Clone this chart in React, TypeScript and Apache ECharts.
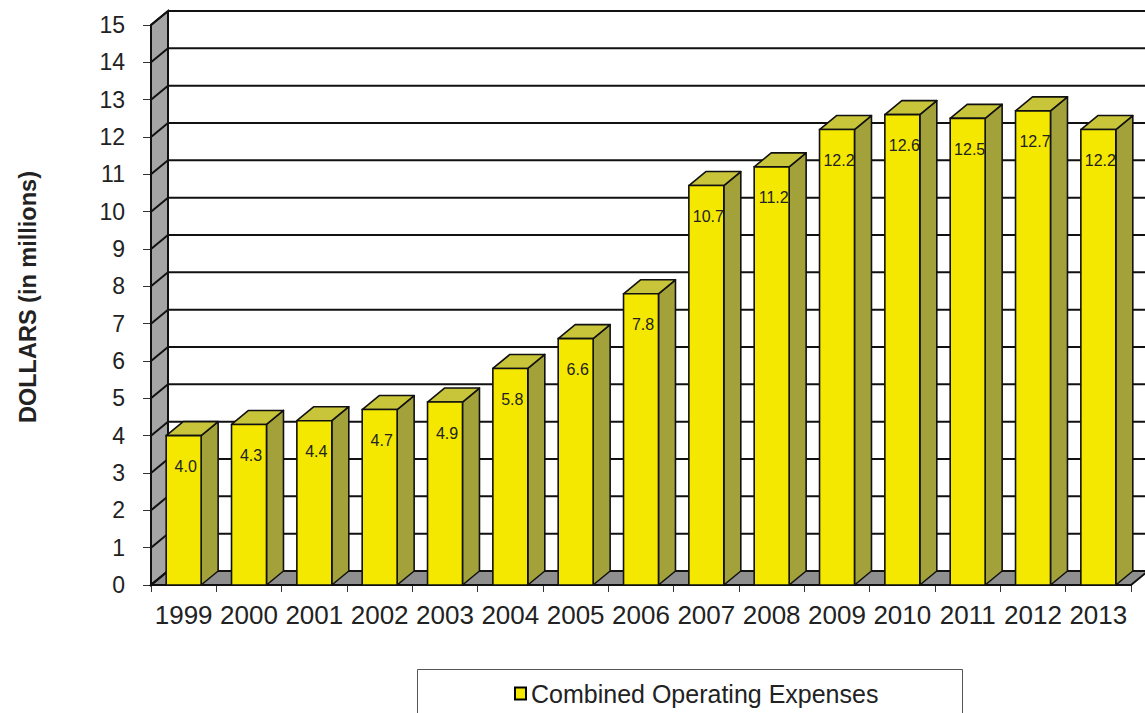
import React, { useEffect, useRef } from "react";
import * as echarts from "echarts";

const CATEGORIES = ["1999", "2000", "2001", "2002", "2003", "2004", "2005", "2006", "2007", "2008", "2009", "2010", "2011", "2012", "2013"];
const VALUES = [4.0, 4.3, 4.4, 4.7, 4.9, 5.8, 6.6, 7.8, 10.7, 11.2, 12.2, 12.6, 12.5, 12.7, 12.2];
const Y_TICKS = [0, 1, 2, 3, 4, 5, 6, 7, 8, 9, 10, 11, 12, 13, 14, 15];
const SERIES_NAME = "Combined Operating Expenses";
const AXIS_TITLE = "DOLLARS (in millions)";

const DX = 17;
const DY = -14;
const FONT = "'Liberation Sans', Arial, sans-serif";
const FRONT = "#F4E800";
const SIDE = "#A3A23A";
const TOP = "#C9C53A";
const WALL = "#A5A5A5";
const FLOOR = "#8F8F8F";
const LINE = "#111";

export default function App() {
  const ref = useRef<HTMLDivElement>(null);
  useEffect(() => {
    if (!ref.current) return;
    const chart = echarts.init(ref.current, undefined, { renderer: "svg" });

    const wallRender = (params: any, api: any) => {
      const cs = params.coordSys;
      const v = api.value(1);
      const y = api.coord([0, v])[1];
      const x0 = cs.x;
      const children: any[] = [];
      if (params.dataIndex === 0) {
        const yBot = api.coord([0, Y_TICKS[0]])[1];
        const yTop = api.coord([0, Y_TICKS[Y_TICKS.length - 1]])[1];
        const xR = cs.x + cs.width;
        children.push({
          type: "polygon",
          shape: { points: [[x0, yBot], [x0, yTop], [x0 + DX, yTop + DY], [x0 + DX, yBot + DY]] },
          style: { fill: WALL, stroke: LINE, lineWidth: 2 },
        });
        children.push({
          type: "polygon",
          shape: { points: [[x0, yBot], [x0 + DX, yBot + DY], [xR + DX, yBot + DY], [xR, yBot]] },
          style: { fill: FLOOR, stroke: LINE, lineWidth: 2 },
        });
      }
      children.push({
        type: "line",
        shape: { x1: x0, y1: y, x2: x0 + DX, y2: y + DY },
        style: { stroke: LINE, lineWidth: 2 },
      });
      children.push({
        type: "line",
        shape: { x1: x0 + DX, y1: y + DY, x2: x0 + cs.width + 80, y2: y + DY },
        style: { stroke: LINE, lineWidth: 2 },
      });
      return { type: "group", children };
    };

    const barRender = (params: any, api: any) => {
      const idx = api.value(0);
      const v = api.value(1);
      const top = api.coord([idx, v]);
      const base = api.coord([idx, 0]);
      const band = api.size([1, 0])[0];
      const w = band * 0.535;
      const l = top[0] - w / 2;
      const r = top[0] + w / 2;
      const ty = top[1];
      const by = base[1];
      return {
        type: "group",
        children: [
          {
            type: "polygon",
            shape: { points: [[r, ty], [r + DX, ty + DY], [r + DX, by + DY], [r, by]] },
            style: { fill: SIDE, stroke: LINE, lineWidth: 1.6, lineJoin: "round" },
          },
          {
            type: "polygon",
            shape: { points: [[l, ty], [l + DX, ty + DY], [r + DX, ty + DY], [r, ty]] },
            style: { fill: TOP, stroke: LINE, lineWidth: 1.6, lineJoin: "round" },
          },
          {
            type: "rect",
            shape: { x: l, y: ty, width: w, height: by - ty },
            style: { fill: FRONT, stroke: LINE, lineWidth: 1.6 },
          },
          {
            type: "text",
            x: top[0] + 2,
            y: ty + 31,
            style: {
              text: v.toFixed(1),
              fill: "#222",
              font: `16px ${FONT}`,
              align: "center",
              verticalAlign: "middle",
            },
          },
        ],
      };
    };

    chart.setOption({
      animation: false,
      backgroundColor: "#fff",
      grid: { left: 151, right: 14, top: 25, bottom: 128, containLabel: false },
      xAxis: {
        type: "category",
        data: CATEGORIES,
        boundaryGap: true,
        axisLine: { show: true, lineStyle: { color: LINE, width: 2 } },
        axisTick: { show: true, length: 7, interval: 0, lineStyle: { color: "#333", width: 1 } },
        axisLabel: { color: "#222", fontSize: 26, fontFamily: FONT, margin: 17, interval: 0 },
        splitLine: { show: false },
      },
      yAxis: {
        type: "value",
        min: 0,
        max: 15,
        interval: 1,
        axisLine: { show: true, lineStyle: { color: LINE, width: 2 } },
        axisTick: { show: true, length: 8, lineStyle: { color: "#333", width: 1 } },
        axisLabel: { color: "#222", fontSize: 23, fontFamily: FONT, margin: 26, padding: [4, 0, 0, 0] },
        splitLine: { show: false },
      },
      legend: {
        data: [SERIES_NAME],
        left: 514,
        top: 681,
        padding: 0,
        icon: "rect",
        itemWidth: 11,
        itemHeight: 12,
        itemStyle: { borderColor: "#000", borderWidth: 2 },
        textStyle: { color: "#222", fontSize: 25, fontFamily: FONT },
      },
      graphic: [
        {
          type: "rect",
          shape: { x: 417.5, y: 669.5, width: 545, height: 60 },
          style: { fill: "none", stroke: "#555", lineWidth: 1 },
          z: 0,
        },
        {
          type: "text",
          x: 28,
          y: 297,
          rotation: Math.PI / 2,
          style: {
            text: AXIS_TITLE,
            font: `bold 23.5px ${FONT}`,
            fill: "#222",
            align: "center",
            verticalAlign: "middle",
            textAlign: "center",
            textVerticalAlign: "middle",
          },
        },
      ],
      series: [
        {
          name: "walls",
          type: "custom",
          renderItem: wallRender,
          data: Y_TICKS.map((v) => [0, v]),
          encode: { x: 0, y: 1 },
          z: 1,
          silent: true,
        },
        {
          name: SERIES_NAME,
          type: "custom",
          renderItem: barRender,
          data: VALUES.map((v, i) => [i, v]),
          encode: { x: 0, y: 1 },
          itemStyle: { color: FRONT },
          z: 3,
        },
      ],
    });
    return () => chart.dispose();
  }, []);
  return <div ref={ref} style={{ position: "fixed", left: 0, top: 0, width: 1145, height: 713 }} />;
}
